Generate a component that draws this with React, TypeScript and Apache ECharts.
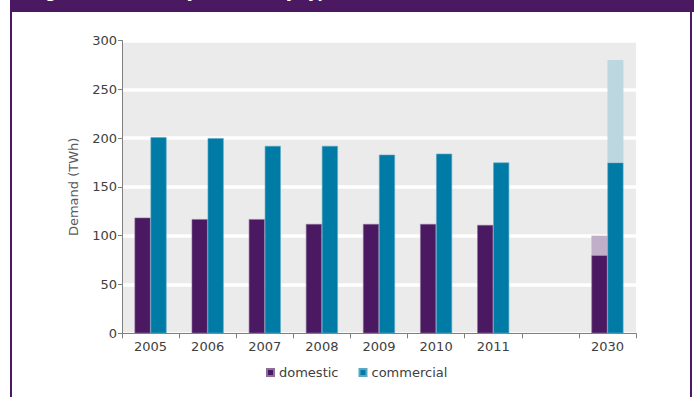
import React, { useEffect, useRef } from "react";
import * as echarts from "echarts";

const categories = ["2005", "2006", "2007", "2008", "2009", "2010", "2011", "", "2030"];
const domestic = [118.5, 117, 117, 112, 112, 112, 111, null, 80];
const commercial = [201, 200, 192, 192, 183, 184, 175, null, 175];
// 2030 projected upper bounds (lighter stacked part)
const domesticProjected = [null, null, null, null, null, null, null, null, 100];
const commercialProjected = [null, null, null, null, null, null, null, null, 280];
const yTicks = { min: 0, max: 300, interval: 50 };

const FONT = "DejaVu Sans";

export default function App() {
  const ref = useRef<HTMLDivElement>(null);
  useEffect(() => {
    if (!ref.current) return;
    const chart = echarts.init(ref.current, null, { renderer: "svg" });
    const domExtra = domesticProjected.map((v, i) =>
      v == null || domestic[i] == null ? null : v - (domestic[i] as number)
    );
    const comExtra = commercialProjected.map((v, i) =>
      v == null || commercial[i] == null ? null : v - (commercial[i] as number)
    );
    chart.setOption({
      animation: false,
      backgroundColor: "#ffffff",
      textStyle: { fontFamily: FONT },
      graphic: [
        { type: "rect", shape: { x: 10, y: 0, width: 684, height: 12 }, style: { fill: "#4a1961" }, silent: true },
        { type: "rect", shape: { x: 10, y: 0, width: 2, height: 397 }, style: { fill: "#4a1961" }, silent: true },
        { type: "rect", shape: { x: 690, y: 0, width: 2, height: 397 }, style: { fill: "#4a1961" }, silent: true },
        {
          type: "text",
          x: 30,
          y: 0,
          style: {
            text: "Figure 1: Electricity demand by type",
            fill: "#ffffff",
            font: "bold 15px " + FONT,
            textVerticalAlign: "bottom",
          },
          silent: true,
        },
      ],
      grid: {
        left: 122,
        right: 58,
        top: 40.5,
        bottom: 63.7,
        show: true,
        backgroundColor: "#ebebeb",
        borderWidth: 0,
      },
      legend: {
        data: ["domestic", "commercial"],
        left: 261,
        top: 361,
        icon: "rect",
        itemWidth: 7,
        itemHeight: 7,
        itemGap: 20,
        textStyle: { fontSize: 13, color: "#404040", fontFamily: FONT },
      },
      xAxis: {
        type: "category",
        data: categories,
        axisLine: { lineStyle: { color: "#7f7f7f", width: 1 } },
        axisTick: { show: true, length: 5, lineStyle: { color: "#7f7f7f" } },
        axisLabel: { fontSize: 13, color: "#404040", margin: 7, interval: 0 },
        splitLine: { show: false },
      },
      yAxis: {
        type: "value",
        min: yTicks.min,
        max: yTicks.max,
        interval: yTicks.interval,
        name: "Demand (TWh)",
        nameLocation: "middle",
        nameRotate: 90,
        nameGap: 42,
        nameTextStyle: { fontSize: 13, color: "#595959" },
        axisLine: { show: true, lineStyle: { color: "#7f7f7f", width: 1 } },
        axisTick: { show: true, length: 4, lineStyle: { color: "#7f7f7f" } },
        axisLabel: { fontSize: 13, color: "#404040", margin: 5 },
        splitLine: { show: true, lineStyle: { color: "#ffffff", width: 3.5 } },
      },
      series: [
        {
          name: "domestic",
          type: "bar",
          stack: "d",
          data: domestic,
          barGap: "0%",
          barCategoryGap: "44%",
          itemStyle: { color: "#4a1961", borderColor: "#8c6f99", borderWidth: 0.6 },
        },
        {
          name: "domestic projected",
          type: "bar",
          stack: "d",
          data: domExtra,
          itemStyle: { color: "#c1afca" },
        },
        {
          name: "commercial",
          type: "bar",
          stack: "c",
          data: commercial,
          itemStyle: { color: "#007ba6", borderColor: "#5aa8c6", borderWidth: 0.6 },
        },
        {
          name: "commercial projected",
          type: "bar",
          stack: "c",
          data: comExtra,
          itemStyle: { color: "#bdd7e1" },
        },
      ],
    });
    return () => chart.dispose();
  }, []);
  return (
    <div
      ref={ref}
      style={{ position: "fixed", left: 0, top: 0, width: 694, height: 397 }}
    />
  );
}
